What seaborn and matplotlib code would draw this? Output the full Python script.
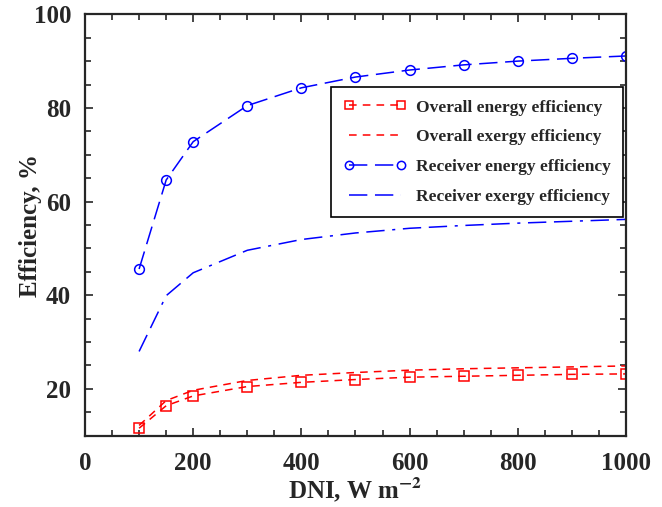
import matplotlib
matplotlib.use('Agg')
import matplotlib.pyplot as plt
import seaborn as sns
from matplotlib.ticker import MultipleLocator

dni = [100, 150, 200, 300, 400, 500, 600, 700, 800, 900, 1000]
overall_energy = [11.6, 16.4, 18.5, 20.5, 21.4, 22.0, 22.5, 22.7, 22.9, 23.1, 23.2]
overall_exergy = [12.2, 17.5, 19.7, 21.8, 22.9, 23.5, 24.0, 24.3, 24.5, 24.7, 24.9]
receiver_energy = [45.6, 64.6, 72.8, 80.5, 84.3, 86.6, 88.1, 89.2, 90.0, 90.6, 91.1]
receiver_exergy = [28.0, 39.9, 44.8, 49.6, 51.9, 53.3, 54.3, 54.9, 55.4, 55.8, 56.2]

sns.set_style('ticks')
plt.rcParams['font.family'] = ['Liberation Serif', 'DejaVu Serif']
plt.rcParams['font.weight'] = 'bold'
plt.rcParams['mathtext.fontset'] = 'stix'

fig = plt.figure(figsize=(6.62, 5.07), dpi=100)
ax = fig.add_axes([0.1284, 0.1406, 0.8172, 0.8312])

sns.lineplot(x=dni, y=overall_energy, ax=ax, color='red', lw=1.1,
             linestyle=(0, (5, 4)), marker='s', markersize=7,
             markerfacecolor='none', markeredgecolor='red', markeredgewidth=1.1,
             label='Overall energy efficiency')
sns.lineplot(x=dni, y=overall_exergy, ax=ax, color='red', lw=1.1,
             linestyle=(0, (5, 4)), label='Overall exergy efficiency')
sns.lineplot(x=dni, y=receiver_energy, ax=ax, color='blue', lw=1.1,
             linestyle=(0, (12, 5)), marker='o', markersize=7,
             markerfacecolor='none', markeredgecolor='blue', markeredgewidth=1.1,
             label='Receiver energy efficiency')
sns.lineplot(x=dni, y=receiver_exergy, ax=ax, color='blue', lw=1.1,
             linestyle=(0, (12, 5, 12, 5, 2, 5)), label='Receiver exergy efficiency')

ax.set_xlim(0, 1000)
ax.set_ylim(10, 100)
ax.xaxis.set_major_locator(MultipleLocator(200))
ax.xaxis.set_minor_locator(MultipleLocator(50))
ax.yaxis.set_major_locator(MultipleLocator(20))
ax.yaxis.set_minor_locator(MultipleLocator(5))
ax.tick_params(which='both', direction='in', top=True, right=True, width=1.2)
ax.tick_params(which='major', length=6, labelsize=18, pad=10)
ax.tick_params(axis='x', which='major', pad=12)
ax.tick_params(which='minor', length=4)
for lab in ax.get_xticklabels() + ax.get_yticklabels():
    lab.set_fontweight('bold')
for sp in ax.spines.values():
    sp.set_linewidth(1.6)

ax.set_xlabel(r'DNI, W m$^{\mathbf{-2}}$', fontsize=18, fontweight='bold', labelpad=0)
ax.set_ylabel('Efficiency, %', fontsize=18, fontweight='bold', labelpad=-6)

leg = ax.legend(loc='upper right', bbox_to_anchor=(0.995, 0.827), borderaxespad=0,
                fontsize=12.5, numpoints=2, handlelength=3.6, markerscale=0.85,
                fancybox=False, framealpha=1, edgecolor='black',
                labelspacing=0.78, borderpad=0.7, handletextpad=0.6)
leg.get_frame().set_linewidth(1.2)
for t in leg.get_texts():
    t.set_fontweight('bold')

plt.savefig('out.png', dpi=100)
